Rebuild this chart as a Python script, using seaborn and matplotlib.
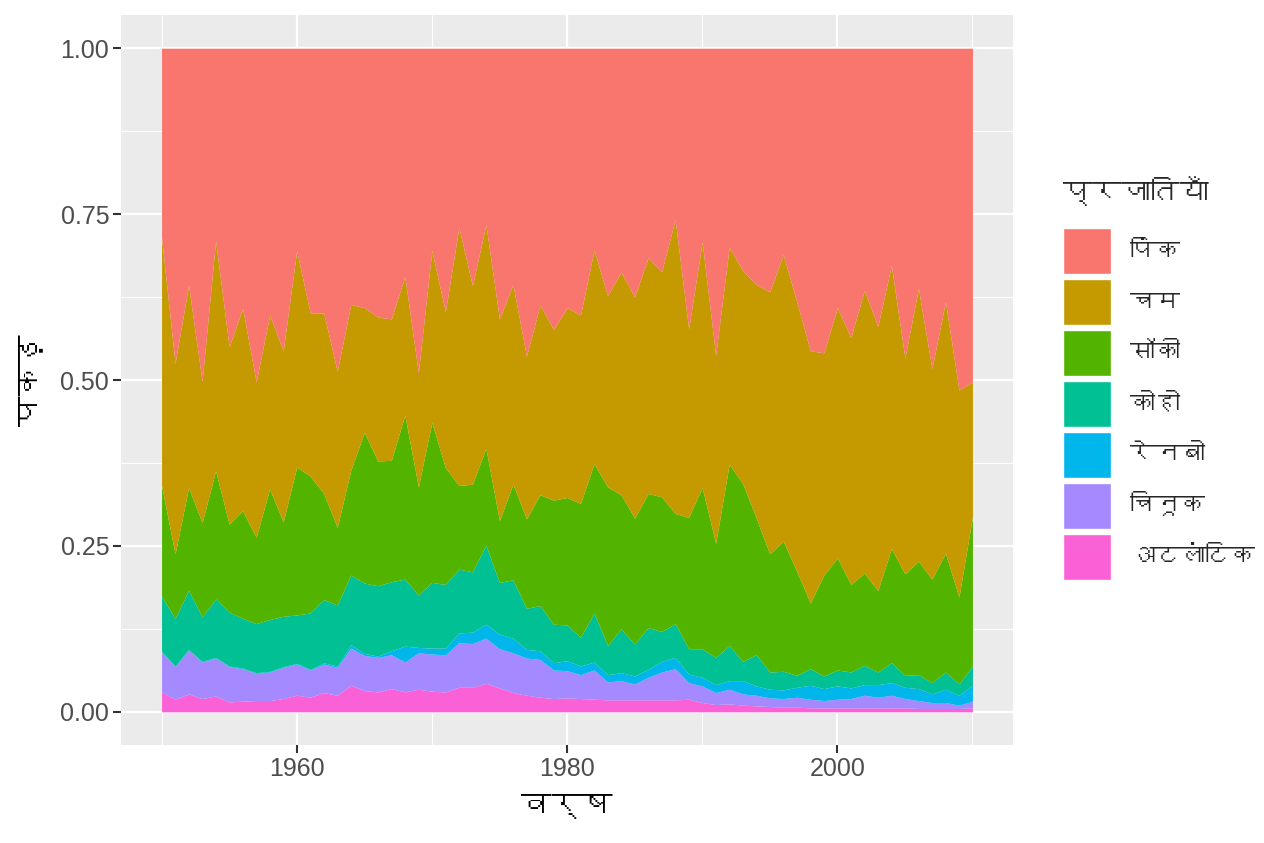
import matplotlib
matplotlib.use('Agg')
import matplotlib.pyplot as plt
from matplotlib import font_manager as fm
from matplotlib.ft2font import FT2Font
from matplotlib.patches import Patch
from matplotlib.ticker import FixedLocator
import numpy as np
import pandas as pd
import seaborn as sns

# years on the x axis
years = list(range(1950, 2011))

# species, top of stack first (legend order)
species = ['पिंक', 'चम', 'सॉकी', 'कोहो', 'रेनबो', 'चिनूक', 'अटलांटिक']
colors = ['#F8766D', '#C49A00', '#53B400', '#00C094', '#00B6EB', '#A58AFF', '#FB61D7']

# upper edge of each band (share of total catch)
top_chum = [
    .715, .525, .643, .498, .710, .550, .608, .497, .598, .544,
    .695, .601, .601, .513, .614, .609, .595, .592, .656, .511,
    .695, .603, .730, .642, .734, .592, .644, .536, .613, .576,
    .609, .598, .696, .627, .663, .625, .684, .663, .742, .577,
    .708, .537, .700, .665, .644, .633, .689, .618, .544, .541,
    .609, .564, .635, .581, .673, .533, .638, .517, .618, .485, .497]
top_sockeye = [
    .341, .238, .338, .285, .363, .283, .303, .263, .336, .286,
    .369, .355, .329, .278, .364, .421, .378, .379, .447, .339,
    .436, .368, .341, .343, .397, .288, .343, .291, .327, .319,
    .323, .314, .374, .339, .327, .292, .329, .324, .299, .293,
    .338, .254, .373, .344, .292, .238, .257, .212, .164, .206,
    .232, .192, .209, .183, .246, .208, .227, .200, .239, .173, .294]
top_coho = [
    .174, .141, .183, .143, .170, .150, .141, .133, .139, .144,
    .146, .149, .169, .161, .206, .194, .190, .196, .200, .176,
    .195, .192, .215, .211, .251, .195, .199, .156, .160, .132,
    .131, .112, .149, .100, .125, .102, .127, .121, .133, .095,
    .095, .082, .100, .076, .086, .060, .061, .055, .065, .054,
    .063, .060, .070, .060, .074, .055, .056, .044, .060, .042, .069]
top_rainbow = [
    .091, .069, .094, .076, .082, .069, .066, .059, .061, .068,
    .073, .064, .074, .069, .101, .088, .084, .092, .099, .097,
    .096, .096, .119, .120, .132, .117, .111, .094, .092, .074,
    .077, .069, .075, .056, .059, .054, .064, .076, .082, .057,
    .052, .041, .047, .047, .039, .034, .033, .037, .040, .035,
    .039, .036, .041, .041, .044, .037, .035, .027, .034, .025, .040]
top_chinook = [
    .090, .068, .093, .075, .081, .068, .065, .058, .060, .067,
    .072, .063, .072, .067, .096, .085, .082, .086, .075, .089,
    .087, .086, .104, .103, .111, .095, .089, .081, .079, .063,
    .062, .056, .063, .045, .047, .042, .052, .060, .065, .044,
    .039, .029, .034, .027, .025, .021, .020, .022, .019, .017,
    .019, .020, .025, .022, .025, .020, .017, .014, .014, .010, .016]
top_atlantic = [
    .030, .019, .027, .020, .024, .015, .016, .017, .017, .020,
    .025, .022, .029, .025, .040, .032, .030, .035, .030, .034,
    .031, .030, .037, .037, .043, .036, .029, .025, .022, .020,
    .021, .020, .019, .018, .018, .018, .018, .018, .018, .019,
    .014, .011, .012, .010, .009, .008, .007, .007, .006, .006,
    .006, .006, .006, .006, .006, .006, .005, .005, .005, .005, .006]


def find_devanagari_font():
    """Return the name of an installed font that has Devanagari glyphs."""
    for f in fm.fontManager.ttflist:
        try:
            cmap = FT2Font(f.fname).get_charmap()
        except Exception:
            continue
        if 0x092A in cmap and 0x0915 in cmap:
            return f.name
    return None


# band shares from the band edges (bottom band first)
edges = np.array([np.zeros(len(years)), top_atlantic, top_chinook, top_rainbow,
                  top_coho, top_sockeye, top_chum, np.ones(len(years))])
shares = np.diff(edges, axis=0)[::-1]  # pink first, atlantic last

df = pd.DataFrame({
    'year': np.tile(years, len(species)),
    'species': np.repeat(species, len(years)),
    'catch': shares.ravel(),
})

sns.set_theme(style='darkgrid', rc={
    'axes.facecolor': '#EBEBEB',
    'grid.color': 'white',
    'grid.linewidth': 1.6,
})
deva = find_devanagari_font()
family = ['Liberation Sans'] + ([deva] if deva else []) + ['DejaVu Sans']
plt.rcParams['font.family'] = family

fig = plt.figure(figsize=(12.64, 8.43), dpi=100)
ax = fig.add_axes([121 / 1264, 1 - 745 / 843, (1013 - 121) / 1264, (745 - 15) / 843])

sns.histplot(
    data=df, x='year', weights='catch', hue='species',
    hue_order=species, palette=colors, multiple='fill',
    element='poly', discrete=True, alpha=1, linewidth=0,
    legend=False, ax=ax,
)

ax.set_xlim(1947, 2013)
ax.set_ylim(-0.05, 1.05)
ax.set_xticks([1960, 1980, 2000])
ax.set_yticks([0, 0.25, 0.5, 0.75, 1.0])
ax.set_yticklabels(['0.00', '0.25', '0.50', '0.75', '1.00'])
ax.xaxis.set_minor_locator(FixedLocator([1950, 1970, 1990, 2010]))
ax.yaxis.set_minor_locator(FixedLocator([0.125, 0.375, 0.625, 0.875]))
ax.grid(which='minor', color='white', linewidth=0.8)
ax.set_axisbelow(True)
for s in ax.spines.values():
    s.set_visible(False)
ax.tick_params(which='major', bottom=True, left=True, length=5.5, width=1.5,
               color='#333333', labelcolor='#4D4D4D', labelsize=18, pad=3)
ax.tick_params(which='minor', bottom=False, left=False)
ax.set_xlabel('वर्ष', fontsize=22, color='black', labelpad=8)
ax.set_ylabel('पकड़', fontsize=22, color='black', labelpad=10)

# legend: title as its own text, keys below it
fig.text(1063 / 1264, 1 - 193 / 843, 'प्रजातियाँ', fontsize=21,
         ha='left', va='center')
handles = [Patch(facecolor=c, edgecolor='white', linewidth=1) for c in colors]
fig.legend(handles, species, loc='upper left',
           bbox_to_anchor=(1063 / 1264, 1 - 228 / 843), frameon=False,
           fontsize=18, handlelength=1.92, handleheight=2.45,
           labelspacing=0.2, handletextpad=0.76, borderpad=0,
           borderaxespad=0)

fig.savefig('out.png', dpi=100)
